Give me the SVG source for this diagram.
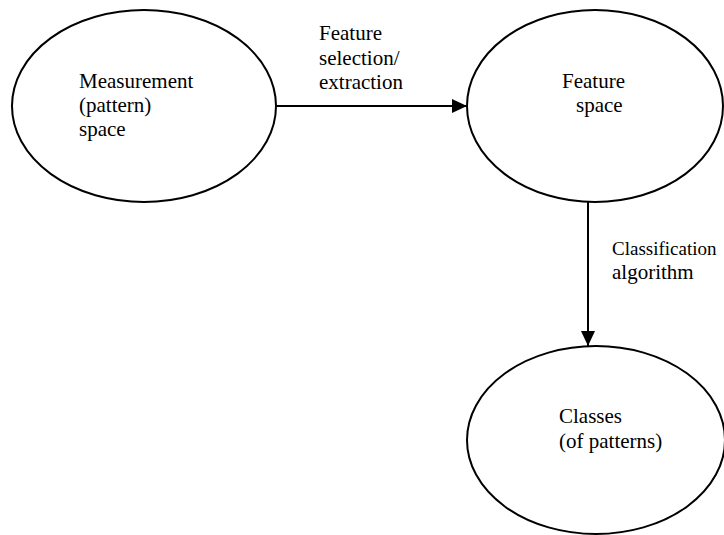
<svg xmlns="http://www.w3.org/2000/svg" width="724" height="535" viewBox="0 0 724 535">
<style>
.node{fill:#fff;stroke:#000;stroke-width:2}
.lbl{font-family:"Liberation Serif","Times New Roman",serif;font-size:21px;fill:#000}
.edge{stroke:#000;stroke-width:2;fill:none}
</style>
<defs>
<marker id="arr" markerWidth="15" markerHeight="14" refX="15" refY="7" orient="auto" markerUnits="userSpaceOnUse">
<path d="M0,0 L15,7 L0,14 Z" fill="#000"/>
</marker>
</defs>
<rect width="724" height="535" fill="#fff"/>
<g id="n-measurement">
<ellipse class="node" cx="144" cy="106" rx="132" ry="96"/>
<text class="lbl" x="79" y="88">Measurement<tspan x="79" dy="24">(pattern)</tspan><tspan x="79" dy="24">space</tspan></text>
</g>
<g id="n-feature">
<ellipse class="node" cx="595" cy="106" rx="128" ry="96"/>
<text class="lbl" x="562" y="88">Feature<tspan x="576" dy="24">space</tspan></text>
</g>
<g id="n-classes">
<ellipse class="node" cx="596" cy="440" rx="129" ry="94"/>
<text class="lbl" x="559" y="423">Classes<tspan x="559" dy="25">(of patterns)</tspan></text>
</g>
<g id="connectors">
<line class="edge" x1="276" y1="106" x2="467" y2="106" marker-end="url(#arr)"/>
<text class="lbl" x="319" y="40">Feature<tspan x="319" dy="24.5">selection/</tspan><tspan x="319" dy="24.5">extraction</tspan></text>
<line class="edge" x1="588" y1="202" x2="588" y2="346" marker-end="url(#arr)"/>
<text class="lbl" x="612" y="255" style="font-size:19px">Classification</text>
<text class="lbl" x="612" y="279">algorithm</text>
</g>
</svg>
